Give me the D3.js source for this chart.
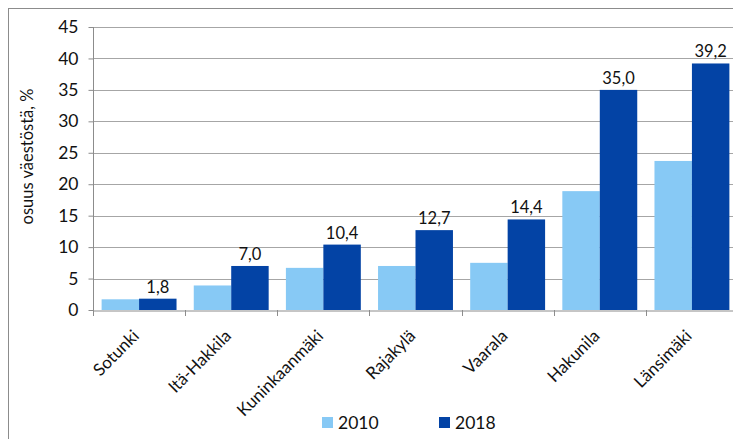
<!DOCTYPE html>
<html><head><meta charset="utf-8">
<script src="https://cdn.jsdelivr.net/npm/d3@7"></script>
<style>body{margin:0;background:#fff}svg{display:block;font-family:Lato,"Open Sans",sans-serif}</style>
</head><body><div id="c"></div>
<script>
const categories = ["Sotunki","Itä-Hakkila","Kuninkaanmäki","Rajakylä","Vaarala","Hakunila","Länsimäki"];
const values2010 = [1.7, 3.9, 6.7, 7.0, 7.5, 18.9, 23.7];
const values2018 = [1.8, 7.0, 10.4, 12.7, 14.4, 35.0, 39.2];
const series = ["2010","2018"];
const yTicks = [0,5,10,15,20,25,30,35,40,45];
const colors = {"2010":"#87c9f5","2018":"#0343a5"};

const W=733,H=439;
const svg=d3.select("#c").append("svg").attr("width",W).attr("height",H);
svg.append("rect").attr("x",8.5).attr("y",8.5).attr("width",W).attr("height",H).attr("fill","none").attr("stroke","#8c8c8c");

const x0=93, x1=738, yb=310, yt=27;
const x=d3.scaleBand().domain(categories).range([x0,x1]).paddingInner(0).paddingOuter(0);
const xs=d3.scaleBand().domain(series).range([0,x.bandwidth()]).paddingOuter(0.23).paddingInner(0);
const y=d3.scaleLinear().domain([0,45]).range([yb,yt]);

// gridlines
svg.append("g").selectAll("line").data(yTicks.slice(1)).join("line")
 .attr("x1",x0).attr("x2",x1).attr("y1",d=>Math.round(y(d))+0.5).attr("y2",d=>Math.round(y(d))+0.5)
 .attr("stroke","#a6a6a6");

// bars
const g=svg.append("g").selectAll("g").data(categories).join("g").attr("transform",d=>`translate(${x(d)},0)`);
g.append("rect").attr("x",xs("2010")).attr("width",xs.bandwidth())
 .attr("y",(d,i)=>y(values2010[i])).attr("height",(d,i)=>yb-y(values2010[i])).attr("fill",colors["2010"]);
g.append("rect").attr("x",xs("2018")).attr("width",xs.bandwidth())
 .attr("y",(d,i)=>y(values2018[i])).attr("height",(d,i)=>yb-y(values2018[i])).attr("fill",colors["2018"]);
g.append("text").attr("x",xs("2018")+xs.bandwidth()/2).attr("y",(d,i)=>y(values2018[i])-6)
 .attr("text-anchor","middle").attr("font-size",16.5).attr("fill","#111")
 .text((d,i)=>d3.format(".1f")(values2018[i]).replace(".",","));

// y axis
const ya=svg.append("g").attr("transform",`translate(${x0+0.5},0)`)
 .call(d3.axisLeft(y).tickValues(yTicks).tickSize(5).tickPadding(10).tickFormat(d=>d));
ya.selectAll(".tick line").attr("stroke","#8c8c8c");
ya.selectAll("text").attr("font-size",17.5).attr("fill","#111").attr("font-family","Lato,sans-serif");
ya.select(".domain").attr("stroke","#8c8c8c").attr("d",`M0,${yt}V${yb}`);

// x axis
const xa=svg.append("g").attr("transform",`translate(0,${yb+0.5})`)
 .call(d3.axisBottom(x).tickSize(0).tickFormat(""));
xa.select(".domain").attr("stroke","#8c8c8c");
xa.selectAll(".tick").remove();
const xt=categories.map(c=>x(c)).concat([x1]);
svg.append("g").selectAll("line").data(xt).join("line")
 .attr("x1",d=>Math.round(d)+0.5).attr("x2",d=>Math.round(d)+0.5).attr("y1",yb).attr("y2",yb+6).attr("stroke","#8c8c8c");
svg.append("g").selectAll("text").data(categories).join("text")
 .attr("transform",d=>`translate(${x(d)+x.bandwidth()/2+1},${yb+27}) rotate(-45)`)
 .attr("text-anchor","end").attr("font-size",17).attr("fill","#111").text(d=>d);

// y label
svg.append("text").attr("transform",`translate(33,${(yt+yb)/2-12}) rotate(-90)`)
 .attr("text-anchor","middle").attr("font-size",16.5).attr("fill","#111").text("osuus väestöstä, %");

// legend
const lx=[322,439];
const lg=svg.append("g").selectAll("g").data(series).join("g").attr("transform",(d,i)=>`translate(${lx[i]},417)`);
lg.append("rect").attr("width",11).attr("height",11).attr("fill",d=>colors[d]);
lg.append("text").attr("x",16).attr("y",12).attr("font-size",17.5).attr("fill","#111").text(d=>d);
</script></body></html>
